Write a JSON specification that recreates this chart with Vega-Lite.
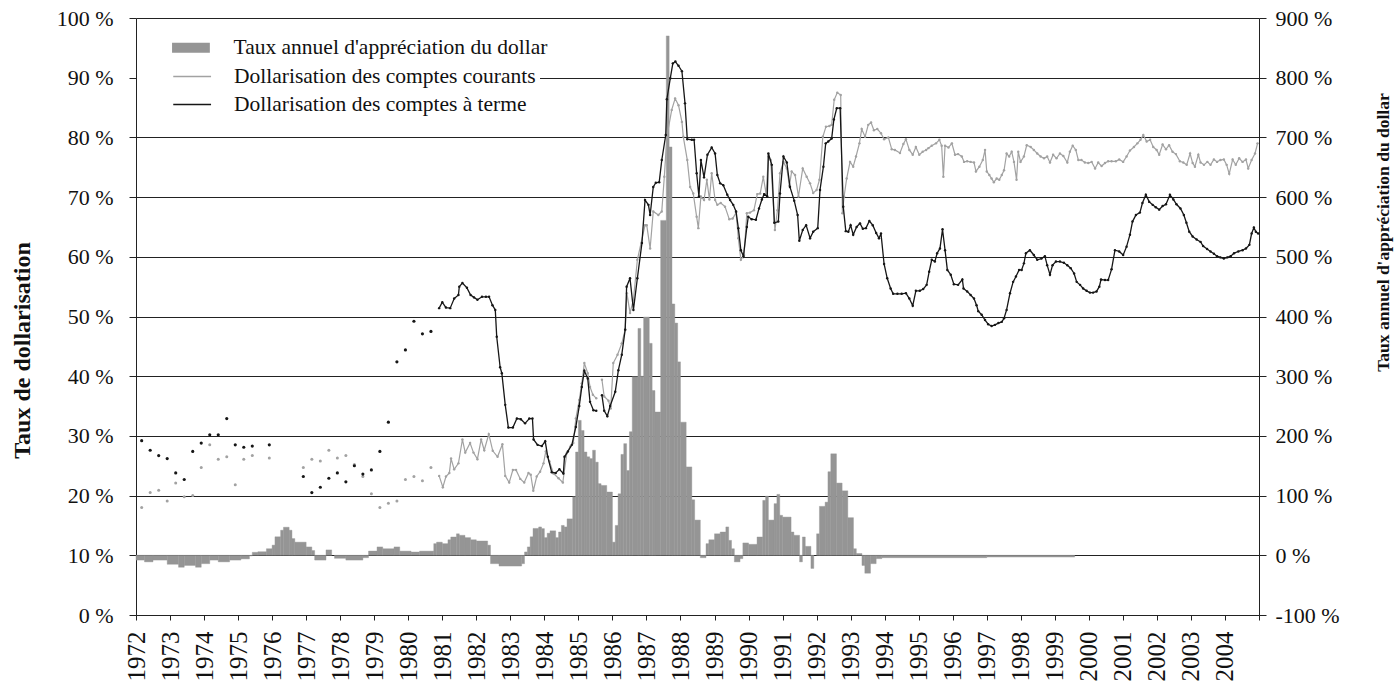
{
  "$schema": "https://vega.github.io/schema/vega-lite/v6.json",
  "width": 1123,
  "height": 597,
  "autosize": {"type": "none"},
  "padding": {"left": 136, "top": 18, "right": 139, "bottom": 75},
  "background": "white",
  "config": {
    "view": {"stroke": null},
    "font": "Liberation Serif",
    "axis": {"labelFont": "Liberation Serif", "titleFont": "Liberation Serif", "labelColor": "#111", "titleColor": "#111", "domainColor": "#222", "tickColor": "#222"},
    "legend": {"labelFont": "Liberation Serif", "labelFontSize": 21.5, "labelColor": "#111", "labelLimit": 0}
  },
  "datasets": {
    "bars": [
      {"year": 1972, "year_end": 1972.25, "value": -8},
      {"year": 1972.25, "year_end": 1972.5, "value": -11},
      {"year": 1972.5, "year_end": 1972.917, "value": -8},
      {"year": 1972.917, "year_end": 1973.25, "value": -15},
      {"year": 1973.25, "year_end": 1973.417, "value": -20},
      {"year": 1973.417, "year_end": 1973.75, "value": -17},
      {"year": 1973.75, "year_end": 1973.917, "value": -20},
      {"year": 1973.917, "year_end": 1974.167, "value": -14},
      {"year": 1974.167, "year_end": 1974.417, "value": -8},
      {"year": 1974.417, "year_end": 1974.75, "value": -11},
      {"year": 1974.75, "year_end": 1975.083, "value": -8},
      {"year": 1975.083, "year_end": 1975.333, "value": -6},
      {"year": 1975.333, "year_end": 1975.417, "value": -1},
      {"year": 1975.417, "year_end": 1975.583, "value": 5},
      {"year": 1975.583, "year_end": 1975.833, "value": 6},
      {"year": 1975.833, "year_end": 1976, "value": 11},
      {"year": 1976, "year_end": 1976.083, "value": 17},
      {"year": 1976.083, "year_end": 1976.25, "value": 31},
      {"year": 1976.25, "year_end": 1976.333, "value": 42},
      {"year": 1976.333, "year_end": 1976.5, "value": 47},
      {"year": 1976.5, "year_end": 1976.583, "value": 42},
      {"year": 1976.583, "year_end": 1976.667, "value": 28},
      {"year": 1976.667, "year_end": 1977, "value": 22},
      {"year": 1977, "year_end": 1977.167, "value": 14},
      {"year": 1977.167, "year_end": 1977.25, "value": 8},
      {"year": 1977.25, "year_end": 1977.583, "value": -8},
      {"year": 1977.583, "year_end": 1977.75, "value": 9},
      {"year": 1977.833, "year_end": 1978.167, "value": -5},
      {"year": 1978.167, "year_end": 1978.667, "value": -8},
      {"year": 1978.667, "year_end": 1978.833, "value": -4},
      {"year": 1978.833, "year_end": 1979.083, "value": 7},
      {"year": 1979.083, "year_end": 1979.25, "value": 14},
      {"year": 1979.25, "year_end": 1979.583, "value": 11},
      {"year": 1979.583, "year_end": 1979.75, "value": 14},
      {"year": 1979.75, "year_end": 1980.083, "value": 7},
      {"year": 1980.083, "year_end": 1980.333, "value": 5.5},
      {"year": 1980.333, "year_end": 1980.75, "value": 7},
      {"year": 1980.75, "year_end": 1980.833, "value": 19.5},
      {"year": 1980.833, "year_end": 1981, "value": 22},
      {"year": 1981, "year_end": 1981.167, "value": 19.5},
      {"year": 1981.167, "year_end": 1981.25, "value": 26},
      {"year": 1981.25, "year_end": 1981.417, "value": 30.7},
      {"year": 1981.417, "year_end": 1981.5, "value": 36},
      {"year": 1981.5, "year_end": 1981.667, "value": 33.5},
      {"year": 1981.667, "year_end": 1981.833, "value": 29.6},
      {"year": 1981.833, "year_end": 1982, "value": 26},
      {"year": 1982, "year_end": 1982.333, "value": 24},
      {"year": 1982.333, "year_end": 1982.417, "value": 17},
      {"year": 1982.417, "year_end": 1982.667, "value": -14},
      {"year": 1982.667, "year_end": 1983.333, "value": -18},
      {"year": 1983.333, "year_end": 1983.417, "value": -14},
      {"year": 1983.417, "year_end": 1983.5, "value": 5.6},
      {"year": 1983.5, "year_end": 1983.583, "value": 14},
      {"year": 1983.583, "year_end": 1983.667, "value": 31},
      {"year": 1983.667, "year_end": 1983.833, "value": 45},
      {"year": 1983.833, "year_end": 1983.917, "value": 47.5},
      {"year": 1983.917, "year_end": 1984, "value": 44.7},
      {"year": 1984, "year_end": 1984.083, "value": 29.6},
      {"year": 1984.083, "year_end": 1984.167, "value": 37},
      {"year": 1984.167, "year_end": 1984.333, "value": 41},
      {"year": 1984.333, "year_end": 1984.417, "value": 29.6},
      {"year": 1984.417, "year_end": 1984.5, "value": 39},
      {"year": 1984.5, "year_end": 1984.583, "value": 50},
      {"year": 1984.583, "year_end": 1984.667, "value": 47.5},
      {"year": 1984.667, "year_end": 1984.833, "value": 61},
      {"year": 1984.833, "year_end": 1984.917, "value": 98},
      {"year": 1984.917, "year_end": 1985, "value": 173},
      {"year": 1985, "year_end": 1985.083, "value": 226},
      {"year": 1985.083, "year_end": 1985.167, "value": 209},
      {"year": 1985.167, "year_end": 1985.25, "value": 173},
      {"year": 1985.25, "year_end": 1985.333, "value": 165},
      {"year": 1985.333, "year_end": 1985.417, "value": 162},
      {"year": 1985.417, "year_end": 1985.5, "value": 176},
      {"year": 1985.5, "year_end": 1985.583, "value": 156},
      {"year": 1985.583, "year_end": 1985.667, "value": 120},
      {"year": 1985.667, "year_end": 1985.833, "value": 117},
      {"year": 1985.833, "year_end": 1986, "value": 106},
      {"year": 1986, "year_end": 1986.083, "value": 22},
      {"year": 1986.083, "year_end": 1986.167, "value": 50},
      {"year": 1986.167, "year_end": 1986.25, "value": 103},
      {"year": 1986.25, "year_end": 1986.333, "value": 169},
      {"year": 1986.333, "year_end": 1986.417, "value": 187},
      {"year": 1986.417, "year_end": 1986.5, "value": 142},
      {"year": 1986.5, "year_end": 1986.583, "value": 207},
      {"year": 1986.583, "year_end": 1986.75, "value": 299},
      {"year": 1986.75, "year_end": 1986.833, "value": 380},
      {"year": 1986.833, "year_end": 1986.917, "value": 300},
      {"year": 1986.917, "year_end": 1987.083, "value": 399},
      {"year": 1987.083, "year_end": 1987.167, "value": 355},
      {"year": 1987.167, "year_end": 1987.25, "value": 276},
      {"year": 1987.25, "year_end": 1987.417, "value": 240},
      {"year": 1987.417, "year_end": 1987.583, "value": 561},
      {"year": 1987.583, "year_end": 1987.667, "value": 870},
      {"year": 1987.667, "year_end": 1987.75, "value": 684},
      {"year": 1987.75, "year_end": 1987.833, "value": 421},
      {"year": 1987.833, "year_end": 1987.917, "value": 389},
      {"year": 1987.917, "year_end": 1988, "value": 324},
      {"year": 1988, "year_end": 1988.167, "value": 223},
      {"year": 1988.167, "year_end": 1988.333, "value": 148},
      {"year": 1988.333, "year_end": 1988.417, "value": 93},
      {"year": 1988.417, "year_end": 1988.583, "value": 59},
      {"year": 1988.583, "year_end": 1988.75, "value": -4},
      {"year": 1988.75, "year_end": 1988.833, "value": 19.5},
      {"year": 1988.833, "year_end": 1989, "value": 26},
      {"year": 1989, "year_end": 1989.167, "value": 36},
      {"year": 1989.167, "year_end": 1989.333, "value": 39},
      {"year": 1989.333, "year_end": 1989.417, "value": 47.5},
      {"year": 1989.417, "year_end": 1989.5, "value": 25},
      {"year": 1989.5, "year_end": 1989.583, "value": 11},
      {"year": 1989.583, "year_end": 1989.75, "value": -11},
      {"year": 1989.75, "year_end": 1989.833, "value": -5.6},
      {"year": 1989.833, "year_end": 1990, "value": 20.7},
      {"year": 1990, "year_end": 1990.25, "value": 18.4},
      {"year": 1990.25, "year_end": 1990.417, "value": 30.7},
      {"year": 1990.417, "year_end": 1990.5, "value": 92},
      {"year": 1990.5, "year_end": 1990.583, "value": 99},
      {"year": 1990.583, "year_end": 1990.75, "value": 59},
      {"year": 1990.75, "year_end": 1990.833, "value": 86.5},
      {"year": 1990.833, "year_end": 1990.917, "value": 102},
      {"year": 1990.917, "year_end": 1991, "value": 67},
      {"year": 1991, "year_end": 1991.25, "value": 64},
      {"year": 1991.25, "year_end": 1991.333, "value": 39},
      {"year": 1991.333, "year_end": 1991.5, "value": 33.5},
      {"year": 1991.5, "year_end": 1991.583, "value": -11},
      {"year": 1991.583, "year_end": 1991.667, "value": 30.7},
      {"year": 1991.667, "year_end": 1991.833, "value": 15},
      {"year": 1991.833, "year_end": 1991.917, "value": -22},
      {"year": 1992, "year_end": 1992.083, "value": 36},
      {"year": 1992.083, "year_end": 1992.25, "value": 82},
      {"year": 1992.25, "year_end": 1992.333, "value": 89},
      {"year": 1992.333, "year_end": 1992.417, "value": 140},
      {"year": 1992.417, "year_end": 1992.583, "value": 170},
      {"year": 1992.583, "year_end": 1992.75, "value": 121},
      {"year": 1992.75, "year_end": 1992.917, "value": 108},
      {"year": 1992.917, "year_end": 1993.083, "value": 63},
      {"year": 1993.083, "year_end": 1993.167, "value": 11},
      {"year": 1993.167, "year_end": 1993.333, "value": 3},
      {"year": 1993.333, "year_end": 1993.417, "value": -17},
      {"year": 1993.417, "year_end": 1993.583, "value": -30},
      {"year": 1993.583, "year_end": 1993.75, "value": -14},
      {"year": 1993.75, "year_end": 1993.917, "value": -5.6},
      {"year": 1993.917, "year_end": 1997, "value": -4},
      {"year": 1997, "year_end": 1999.583, "value": -3}
    ],
    "terme_early": [
      {"year": 1972.167, "value": 29.2}, {"year": 1972.417, "value": 27.6}, {"year": 1972.667, "value": 26.7}, {"year": 1972.917, "value": 26.2},
      {"year": 1973.167, "value": 23.8}, {"year": 1973.417, "value": 22.7}, {"year": 1973.667, "value": 27.4}, {"year": 1973.917, "value": 28.8},
      {"year": 1974.167, "value": 30.2}, {"year": 1974.417, "value": 30.2}, {"year": 1974.667, "value": 32.9}, {"year": 1974.917, "value": 28.5},
      {"year": 1975.167, "value": 28.1}, {"year": 1975.417, "value": 28.3}, {"year": 1975.917, "value": 28.5},
      {"year": 1976.917, "value": 23.2},
      {"year": 1977.167, "value": 20.5}, {"year": 1977.417, "value": 21.4}, {"year": 1977.667, "value": 22.9}, {"year": 1977.917, "value": 23.8},
      {"year": 1978.167, "value": 22.3}, {"year": 1978.417, "value": 25.0}, {"year": 1978.667, "value": 23.6}, {"year": 1978.917, "value": 24.3},
      {"year": 1979.167, "value": 27.4}, {"year": 1979.417, "value": 32.3}, {"year": 1979.667, "value": 42.4}, {"year": 1979.917, "value": 44.4},
      {"year": 1980.167, "value": 49.2}, {"year": 1980.417, "value": 47.1}, {"year": 1980.667, "value": 47.5}
    ],
    "courants_early": [
      {"year": 1972.167, "value": 18.0}, {"year": 1972.417, "value": 20.5}, {"year": 1972.667, "value": 20.9}, {"year": 1972.917, "value": 19.1},
      {"year": 1973.167, "value": 22.1}, {"year": 1973.417, "value": 19.8}, {"year": 1973.667, "value": 20.0}, {"year": 1973.917, "value": 24.7},
      {"year": 1974.167, "value": 28.5}, {"year": 1974.417, "value": 26.1}, {"year": 1974.667, "value": 26.5}, {"year": 1974.917, "value": 21.8},
      {"year": 1975.167, "value": 26.1}, {"year": 1975.417, "value": 26.7}, {"year": 1975.917, "value": 26.3},
      {"year": 1976.917, "value": 24.7},
      {"year": 1977.167, "value": 26.1}, {"year": 1977.417, "value": 25.8}, {"year": 1977.667, "value": 27.6}, {"year": 1977.917, "value": 26.3},
      {"year": 1978.167, "value": 26.7}, {"year": 1978.417, "value": 25.2}, {"year": 1978.667, "value": 23.2}, {"year": 1978.917, "value": 20.3},
      {"year": 1979.167, "value": 18.0}, {"year": 1979.417, "value": 18.7}, {"year": 1979.667, "value": 19.1}, {"year": 1979.917, "value": 22.7},
      {"year": 1980.167, "value": 23.2}, {"year": 1980.417, "value": 22.5}, {"year": 1980.667, "value": 24.7}
    ],
    "terme": [
      {"year": 1980.908, "value": 51.4, "seg": 1}, {"year": 1981.0, "value": 52.4, "seg": 1}, {"year": 1981.108, "value": 51.5, "seg": 1}, {"year": 1981.233, "value": 51.4, "seg": 1},
      {"year": 1981.35, "value": 53.0, "seg": 1}, {"year": 1981.475, "value": 53.6, "seg": 1}, {"year": 1981.5, "value": 55.0, "seg": 1}, {"year": 1981.592, "value": 55.6, "seg": 1},
      {"year": 1981.725, "value": 54.8, "seg": 1}, {"year": 1981.833, "value": 53.6, "seg": 1}, {"year": 1981.933, "value": 53.2, "seg": 1}, {"year": 1982.033, "value": 52.8, "seg": 1},
      {"year": 1982.167, "value": 53.3, "seg": 1}, {"year": 1982.283, "value": 53.3, "seg": 1}, {"year": 1982.375, "value": 53.3, "seg": 1}, {"year": 1982.475, "value": 51.9, "seg": 1},
      {"year": 1982.558, "value": 51.1, "seg": 1}, {"year": 1982.6, "value": 46.6, "seg": 1}, {"year": 1982.7, "value": 41.5, "seg": 1}, {"year": 1982.75, "value": 40.5, "seg": 1},
      {"year": 1982.85, "value": 35.2, "seg": 1}, {"year": 1982.942, "value": 31.4, "seg": 1}, {"year": 1983.075, "value": 31.4, "seg": 1}, {"year": 1983.192, "value": 32.9, "seg": 1},
      {"year": 1983.308, "value": 32.8, "seg": 1}, {"year": 1983.433, "value": 32.1, "seg": 1}, {"year": 1983.558, "value": 32.9, "seg": 1}, {"year": 1983.65, "value": 32.9, "seg": 1},
      {"year": 1983.683, "value": 29.4, "seg": 1}, {"year": 1983.8, "value": 28.5, "seg": 1}, {"year": 1983.925, "value": 28.3, "seg": 1}, {"year": 1984.025, "value": 29.1, "seg": 1},
      {"year": 1984.1, "value": 26.5, "seg": 1}, {"year": 1984.217, "value": 23.9, "seg": 1}, {"year": 1984.333, "value": 23.8, "seg": 1}, {"year": 1984.442, "value": 24.4, "seg": 1},
      {"year": 1984.558, "value": 23.7, "seg": 1}, {"year": 1984.592, "value": 26.5, "seg": 1}, {"year": 1984.692, "value": 27.4, "seg": 1}, {"year": 1984.808, "value": 28.5, "seg": 1},
      {"year": 1984.925, "value": 31.5, "seg": 1}, {"year": 1985.025, "value": 35.0, "seg": 1}, {"year": 1985.1, "value": 38.2, "seg": 1}, {"year": 1985.175, "value": 40.9, "seg": 1},
      {"year": 1985.275, "value": 39.6, "seg": 1}, {"year": 1985.342, "value": 35.7, "seg": 1}, {"year": 1985.442, "value": 34.3, "seg": 1}, {"year": 1985.525, "value": 34.2, "seg": 1},
      {"year": 1985.692, "value": 36.8, "seg": 2}, {"year": 1985.758, "value": 34.2, "seg": 2}, {"year": 1985.85, "value": 33.3, "seg": 2}, {"year": 1985.933, "value": 35.0, "seg": 2},
      {"year": 1986.083, "value": 37.4, "seg": 2}, {"year": 1986.175, "value": 41.0, "seg": 2}, {"year": 1986.275, "value": 43.6, "seg": 2}, {"year": 1986.375, "value": 47.8, "seg": 2},
      {"year": 1986.417, "value": 55.0, "seg": 2}, {"year": 1986.517, "value": 56.4, "seg": 2}, {"year": 1986.617, "value": 51.1, "seg": 2}, {"year": 1986.733, "value": 56.4, "seg": 2},
      {"year": 1986.867, "value": 62.3, "seg": 2}, {"year": 1986.958, "value": 69.5, "seg": 2}, {"year": 1987.058, "value": 68.7, "seg": 2}, {"year": 1987.108, "value": 67.0, "seg": 2},
      {"year": 1987.2, "value": 71.7, "seg": 2}, {"year": 1987.275, "value": 72.4, "seg": 2}, {"year": 1987.375, "value": 72.5, "seg": 2}, {"year": 1987.45, "value": 76.2, "seg": 2},
      {"year": 1987.567, "value": 80.4, "seg": 2}, {"year": 1987.6, "value": 86.4, "seg": 2}, {"year": 1987.7, "value": 89.9, "seg": 2}, {"year": 1987.775, "value": 92.4, "seg": 2},
      {"year": 1987.85, "value": 92.7, "seg": 2}, {"year": 1987.942, "value": 92.0, "seg": 2}, {"year": 1988.042, "value": 91.1, "seg": 2}, {"year": 1988.133, "value": 85.7, "seg": 2},
      {"year": 1988.2, "value": 79.7, "seg": 2}, {"year": 1988.333, "value": 79.6, "seg": 2}, {"year": 1988.4, "value": 79.6, "seg": 2}, {"year": 1988.475, "value": 74.0, "seg": 2},
      {"year": 1988.542, "value": 70.1, "seg": 2}, {"year": 1988.6, "value": 76.2, "seg": 2}, {"year": 1988.692, "value": 73.3, "seg": 2}, {"year": 1988.792, "value": 77.1, "seg": 2},
      {"year": 1988.917, "value": 78.3, "seg": 2}, {"year": 1989.017, "value": 77.3, "seg": 2}, {"year": 1989.083, "value": 73.7, "seg": 2}, {"year": 1989.167, "value": 72.3, "seg": 2},
      {"year": 1989.258, "value": 72.0, "seg": 2}, {"year": 1989.375, "value": 70.4, "seg": 2}, {"year": 1989.458, "value": 69.5, "seg": 2}, {"year": 1989.55, "value": 68.7, "seg": 2},
      {"year": 1989.633, "value": 67.6, "seg": 2}, {"year": 1989.7, "value": 64.8, "seg": 2}, {"year": 1989.775, "value": 61.1, "seg": 2}, {"year": 1989.85, "value": 60.1, "seg": 2},
      {"year": 1989.95, "value": 65.0, "seg": 2}, {"year": 1989.992, "value": 66.7, "seg": 2}, {"year": 1990.092, "value": 66.3, "seg": 2}, {"year": 1990.217, "value": 66.2, "seg": 2},
      {"year": 1990.308, "value": 68.1, "seg": 2}, {"year": 1990.392, "value": 69.6, "seg": 2}, {"year": 1990.458, "value": 70.5, "seg": 2}, {"year": 1990.55, "value": 70.1, "seg": 2},
      {"year": 1990.583, "value": 77.3, "seg": 2}, {"year": 1990.683, "value": 75.4, "seg": 2}, {"year": 1990.758, "value": 65.7, "seg": 2}, {"year": 1990.875, "value": 65.9, "seg": 2},
      {"year": 1990.925, "value": 70.6, "seg": 2}, {"year": 1991.025, "value": 76.8, "seg": 2}, {"year": 1991.125, "value": 75.8, "seg": 2}, {"year": 1991.217, "value": 71.7, "seg": 2},
      {"year": 1991.342, "value": 69.4, "seg": 2}, {"year": 1991.442, "value": 67.0, "seg": 2}, {"year": 1991.492, "value": 62.7, "seg": 2}, {"year": 1991.592, "value": 64.5, "seg": 2},
      {"year": 1991.692, "value": 65.3, "seg": 2}, {"year": 1991.808, "value": 63.1, "seg": 2}, {"year": 1991.9, "value": 64.2, "seg": 2}, {"year": 1992.033, "value": 64.8, "seg": 2},
      {"year": 1992.1, "value": 71.2, "seg": 2}, {"year": 1992.2, "value": 75.1, "seg": 2}, {"year": 1992.267, "value": 79.0, "seg": 2}, {"year": 1992.342, "value": 79.3, "seg": 2},
      {"year": 1992.442, "value": 79.8, "seg": 2}, {"year": 1992.508, "value": 83.0, "seg": 2}, {"year": 1992.592, "value": 84.9, "seg": 2}, {"year": 1992.692, "value": 84.9, "seg": 2},
      {"year": 1992.783, "value": 68.4, "seg": 2}, {"year": 1992.858, "value": 64.3, "seg": 2}, {"year": 1992.933, "value": 64.2, "seg": 2}, {"year": 1993.0, "value": 65.3, "seg": 2},
      {"year": 1993.075, "value": 63.7, "seg": 2}, {"year": 1993.175, "value": 65.0, "seg": 2}, {"year": 1993.275, "value": 65.6, "seg": 2}, {"year": 1993.358, "value": 64.7, "seg": 2},
      {"year": 1993.45, "value": 64.8, "seg": 2}, {"year": 1993.55, "value": 66.0, "seg": 2}, {"year": 1993.65, "value": 65.3, "seg": 2}, {"year": 1993.75, "value": 64.0, "seg": 2},
      {"year": 1993.833, "value": 63.1, "seg": 2}, {"year": 1993.892, "value": 63.9, "seg": 2}, {"year": 1993.983, "value": 58.8, "seg": 2}, {"year": 1994.075, "value": 56.4, "seg": 2},
      {"year": 1994.175, "value": 54.7, "seg": 2}, {"year": 1994.25, "value": 53.8, "seg": 2}, {"year": 1994.375, "value": 53.8, "seg": 2}, {"year": 1994.5, "value": 53.8, "seg": 2},
      {"year": 1994.625, "value": 53.9, "seg": 2}, {"year": 1994.725, "value": 53.0, "seg": 2}, {"year": 1994.825, "value": 51.8, "seg": 2}, {"year": 1994.917, "value": 54.3, "seg": 2},
      {"year": 1995.033, "value": 54.3, "seg": 2}, {"year": 1995.133, "value": 54.6, "seg": 2}, {"year": 1995.233, "value": 55.3, "seg": 2}, {"year": 1995.308, "value": 57.5, "seg": 2},
      {"year": 1995.383, "value": 59.5, "seg": 2}, {"year": 1995.475, "value": 59.2, "seg": 2}, {"year": 1995.542, "value": 60.6, "seg": 2}, {"year": 1995.625, "value": 61.4, "seg": 2},
      {"year": 1995.7, "value": 64.6, "seg": 2}, {"year": 1995.775, "value": 61.1, "seg": 2}, {"year": 1995.842, "value": 57.8, "seg": 2}, {"year": 1995.942, "value": 57.0, "seg": 2},
      {"year": 1996.033, "value": 55.4, "seg": 2}, {"year": 1996.158, "value": 55.3, "seg": 2}, {"year": 1996.283, "value": 56.2, "seg": 2}, {"year": 1996.317, "value": 54.7, "seg": 2},
      {"year": 1996.425, "value": 54.2, "seg": 2}, {"year": 1996.525, "value": 53.6, "seg": 2}, {"year": 1996.625, "value": 53.0, "seg": 2}, {"year": 1996.7, "value": 51.9, "seg": 2},
      {"year": 1996.75, "value": 50.9, "seg": 2}, {"year": 1996.85, "value": 50.3, "seg": 2}, {"year": 1996.95, "value": 49.4, "seg": 2}, {"year": 1997.042, "value": 48.7, "seg": 2},
      {"year": 1997.142, "value": 48.4, "seg": 2}, {"year": 1997.242, "value": 48.6, "seg": 2}, {"year": 1997.342, "value": 48.9, "seg": 2}, {"year": 1997.442, "value": 49.1, "seg": 2},
      {"year": 1997.508, "value": 49.7, "seg": 2}, {"year": 1997.583, "value": 51.1, "seg": 2}, {"year": 1997.683, "value": 53.9, "seg": 2}, {"year": 1997.775, "value": 55.8, "seg": 2},
      {"year": 1997.858, "value": 56.7, "seg": 2}, {"year": 1997.95, "value": 57.8, "seg": 2}, {"year": 1998.025, "value": 57.8, "seg": 2}, {"year": 1998.092, "value": 58.9, "seg": 2},
      {"year": 1998.15, "value": 60.6, "seg": 2}, {"year": 1998.267, "value": 61.1, "seg": 2}, {"year": 1998.383, "value": 60.3, "seg": 2}, {"year": 1998.483, "value": 59.5, "seg": 2},
      {"year": 1998.608, "value": 59.7, "seg": 2}, {"year": 1998.708, "value": 60.1, "seg": 2}, {"year": 1998.775, "value": 58.6, "seg": 2}, {"year": 1998.858, "value": 57.0, "seg": 2},
      {"year": 1998.933, "value": 58.6, "seg": 2}, {"year": 1999.033, "value": 59.2, "seg": 2}, {"year": 1999.15, "value": 59.2, "seg": 2}, {"year": 1999.267, "value": 59.0, "seg": 2},
      {"year": 1999.367, "value": 58.6, "seg": 2}, {"year": 1999.467, "value": 58.1, "seg": 2}, {"year": 1999.567, "value": 57.2, "seg": 2}, {"year": 1999.642, "value": 55.8, "seg": 2},
      {"year": 1999.742, "value": 55.3, "seg": 2}, {"year": 1999.833, "value": 54.7, "seg": 2}, {"year": 1999.933, "value": 54.3, "seg": 2}, {"year": 2000.033, "value": 54.0, "seg": 2},
      {"year": 2000.125, "value": 54.0, "seg": 2}, {"year": 2000.225, "value": 54.2, "seg": 2}, {"year": 2000.308, "value": 55.0, "seg": 2}, {"year": 2000.358, "value": 56.2, "seg": 2},
      {"year": 2000.475, "value": 56.1, "seg": 2}, {"year": 2000.567, "value": 56.1, "seg": 2}, {"year": 2000.667, "value": 57.9, "seg": 2}, {"year": 2000.767, "value": 61.1, "seg": 2},
      {"year": 2000.892, "value": 60.9, "seg": 2}, {"year": 2001.008, "value": 60.3, "seg": 2}, {"year": 2001.108, "value": 61.7, "seg": 2}, {"year": 2001.208, "value": 63.7, "seg": 2},
      {"year": 2001.283, "value": 65.9, "seg": 2}, {"year": 2001.383, "value": 67.0, "seg": 2}, {"year": 2001.5, "value": 67.4, "seg": 2}, {"year": 2001.575, "value": 69.0, "seg": 2},
      {"year": 2001.675, "value": 70.4, "seg": 2}, {"year": 2001.775, "value": 69.2, "seg": 2}, {"year": 2001.875, "value": 68.7, "seg": 2}, {"year": 2001.967, "value": 68.3, "seg": 2},
      {"year": 2002.067, "value": 67.9, "seg": 2}, {"year": 2002.167, "value": 68.5, "seg": 2}, {"year": 2002.267, "value": 68.8, "seg": 2}, {"year": 2002.383, "value": 70.4, "seg": 2},
      {"year": 2002.483, "value": 69.6, "seg": 2}, {"year": 2002.575, "value": 68.8, "seg": 2}, {"year": 2002.692, "value": 68.1, "seg": 2}, {"year": 2002.792, "value": 67.0, "seg": 2},
      {"year": 2002.867, "value": 65.7, "seg": 2}, {"year": 2002.95, "value": 64.2, "seg": 2}, {"year": 2003.05, "value": 63.4, "seg": 2}, {"year": 2003.167, "value": 62.9, "seg": 2},
      {"year": 2003.283, "value": 62.5, "seg": 2}, {"year": 2003.358, "value": 61.8, "seg": 2}, {"year": 2003.475, "value": 61.3, "seg": 2}, {"year": 2003.575, "value": 60.9, "seg": 2},
      {"year": 2003.675, "value": 60.5, "seg": 2}, {"year": 2003.767, "value": 60.1, "seg": 2}, {"year": 2003.867, "value": 59.9, "seg": 2}, {"year": 2003.967, "value": 59.7, "seg": 2},
      {"year": 2004.067, "value": 59.9, "seg": 2}, {"year": 2004.167, "value": 60.1, "seg": 2}, {"year": 2004.267, "value": 60.6, "seg": 2}, {"year": 2004.392, "value": 60.9, "seg": 2},
      {"year": 2004.517, "value": 61.1, "seg": 2}, {"year": 2004.617, "value": 61.4, "seg": 2}, {"year": 2004.717, "value": 62.0, "seg": 2}, {"year": 2004.783, "value": 63.9, "seg": 2},
      {"year": 2004.85, "value": 64.9, "seg": 2}, {"year": 2004.908, "value": 64.2, "seg": 2}, {"year": 2004.975, "value": 63.9, "seg": 2}
    ],
    "courants": [
      {"year": 1980.908, "value": 23.3, "seg": 1}, {"year": 1981.017, "value": 21.4, "seg": 1}, {"year": 1981.108, "value": 23.2, "seg": 1}, {"year": 1981.208, "value": 23.8, "seg": 1},
      {"year": 1981.258, "value": 26.2, "seg": 1}, {"year": 1981.35, "value": 24.4, "seg": 1}, {"year": 1981.475, "value": 25.4, "seg": 1}, {"year": 1981.592, "value": 29.4, "seg": 1},
      {"year": 1981.675, "value": 27.2, "seg": 1}, {"year": 1981.817, "value": 28.8, "seg": 1}, {"year": 1981.917, "value": 27.2, "seg": 1}, {"year": 1982.033, "value": 26.1, "seg": 1},
      {"year": 1982.142, "value": 29.4, "seg": 1}, {"year": 1982.233, "value": 27.6, "seg": 1}, {"year": 1982.367, "value": 30.3, "seg": 1}, {"year": 1982.483, "value": 27.5, "seg": 1},
      {"year": 1982.625, "value": 26.5, "seg": 1}, {"year": 1982.767, "value": 28.6, "seg": 1}, {"year": 1982.85, "value": 23.3, "seg": 1}, {"year": 1982.967, "value": 22.2, "seg": 1},
      {"year": 1983.075, "value": 24.3, "seg": 1}, {"year": 1983.167, "value": 24.3, "seg": 1}, {"year": 1983.292, "value": 22.8, "seg": 1}, {"year": 1983.408, "value": 22.2, "seg": 1},
      {"year": 1983.533, "value": 23.8, "seg": 1}, {"year": 1983.6, "value": 23.5, "seg": 1}, {"year": 1983.675, "value": 20.8, "seg": 1}, {"year": 1983.775, "value": 23.2, "seg": 1},
      {"year": 1983.875, "value": 24.0, "seg": 1}, {"year": 1983.975, "value": 25.4, "seg": 1}, {"year": 1984.042, "value": 27.4, "seg": 1}, {"year": 1984.15, "value": 25.7, "seg": 1},
      {"year": 1984.267, "value": 23.7, "seg": 1}, {"year": 1984.417, "value": 22.9, "seg": 1}, {"year": 1984.542, "value": 22.2, "seg": 1}, {"year": 1984.658, "value": 27.1, "seg": 1},
      {"year": 1984.758, "value": 28.2, "seg": 1}, {"year": 1984.85, "value": 28.8, "seg": 1}, {"year": 1984.925, "value": 32.9, "seg": 1}, {"year": 1985.025, "value": 36.0, "seg": 1},
      {"year": 1985.1, "value": 38.8, "seg": 1}, {"year": 1985.175, "value": 42.2, "seg": 1}, {"year": 1985.275, "value": 40.5, "seg": 1}, {"year": 1985.342, "value": 38.2, "seg": 1},
      {"year": 1985.425, "value": 36.9, "seg": 1}, {"year": 1985.525, "value": 36.3, "seg": 1},
      {"year": 1985.692, "value": 39.4, "seg": 2}, {"year": 1985.758, "value": 36.6, "seg": 2}, {"year": 1985.883, "value": 35.9, "seg": 2}, {"year": 1985.95, "value": 34.6, "seg": 2},
      {"year": 1986.025, "value": 42.2, "seg": 2}, {"year": 1986.15, "value": 43.6, "seg": 2}, {"year": 1986.275, "value": 45.5, "seg": 2}, {"year": 1986.375, "value": 47.8, "seg": 2},
      {"year": 1986.425, "value": 53.9, "seg": 2}, {"year": 1986.517, "value": 50.6, "seg": 2}, {"year": 1986.617, "value": 52.8, "seg": 2}, {"year": 1986.733, "value": 59.5, "seg": 2},
      {"year": 1986.958, "value": 65.3, "seg": 2}, {"year": 1987.008, "value": 65.3, "seg": 2}, {"year": 1987.108, "value": 61.4, "seg": 2}, {"year": 1987.2, "value": 67.6, "seg": 2},
      {"year": 1987.35, "value": 67.0, "seg": 2}, {"year": 1987.45, "value": 67.6, "seg": 2}, {"year": 1987.525, "value": 73.4, "seg": 2}, {"year": 1987.6, "value": 80.1, "seg": 2},
      {"year": 1987.742, "value": 84.6, "seg": 2}, {"year": 1987.842, "value": 86.5, "seg": 2}, {"year": 1987.942, "value": 85.4, "seg": 2}, {"year": 1988.042, "value": 82.6, "seg": 2},
      {"year": 1988.083, "value": 80.1, "seg": 2}, {"year": 1988.2, "value": 76.2, "seg": 2}, {"year": 1988.283, "value": 71.7, "seg": 2}, {"year": 1988.375, "value": 70.6, "seg": 2},
      {"year": 1988.475, "value": 66.7, "seg": 2}, {"year": 1988.525, "value": 64.8, "seg": 2}, {"year": 1988.6, "value": 70.1, "seg": 2}, {"year": 1988.692, "value": 69.5, "seg": 2},
      {"year": 1988.775, "value": 72.9, "seg": 2}, {"year": 1988.85, "value": 69.6, "seg": 2}, {"year": 1988.917, "value": 74.0, "seg": 2}, {"year": 1989.017, "value": 69.5, "seg": 2},
      {"year": 1989.083, "value": 68.7, "seg": 2}, {"year": 1989.183, "value": 69.0, "seg": 2}, {"year": 1989.308, "value": 68.4, "seg": 2}, {"year": 1989.433, "value": 66.3, "seg": 2},
      {"year": 1989.533, "value": 66.4, "seg": 2}, {"year": 1989.633, "value": 67.4, "seg": 2}, {"year": 1989.7, "value": 63.1, "seg": 2}, {"year": 1989.775, "value": 59.5, "seg": 2},
      {"year": 1989.867, "value": 60.3, "seg": 2}, {"year": 1989.95, "value": 67.3, "seg": 2}, {"year": 1990.042, "value": 67.4, "seg": 2}, {"year": 1990.158, "value": 67.8, "seg": 2},
      {"year": 1990.258, "value": 70.5, "seg": 2}, {"year": 1990.342, "value": 70.6, "seg": 2}, {"year": 1990.433, "value": 73.4, "seg": 2}, {"year": 1990.517, "value": 70.5, "seg": 2},
      {"year": 1990.583, "value": 76.8, "seg": 2}, {"year": 1990.65, "value": 76.2, "seg": 2}, {"year": 1990.775, "value": 64.5, "seg": 2}, {"year": 1990.85, "value": 67.8, "seg": 2},
      {"year": 1990.925, "value": 74.0, "seg": 2}, {"year": 1991.025, "value": 75.9, "seg": 2}, {"year": 1991.125, "value": 74.8, "seg": 2}, {"year": 1991.2, "value": 71.9, "seg": 2},
      {"year": 1991.267, "value": 74.3, "seg": 2}, {"year": 1991.367, "value": 73.7, "seg": 2}, {"year": 1991.467, "value": 70.1, "seg": 2}, {"year": 1991.592, "value": 74.8, "seg": 2},
      {"year": 1991.708, "value": 73.4, "seg": 2}, {"year": 1991.808, "value": 72.3, "seg": 2}, {"year": 1991.9, "value": 70.7, "seg": 2}, {"year": 1992.0, "value": 71.2, "seg": 2},
      {"year": 1992.083, "value": 72.9, "seg": 2}, {"year": 1992.183, "value": 80.1, "seg": 2}, {"year": 1992.275, "value": 81.8, "seg": 2}, {"year": 1992.375, "value": 81.9, "seg": 2},
      {"year": 1992.442, "value": 82.1, "seg": 2}, {"year": 1992.517, "value": 86.3, "seg": 2}, {"year": 1992.608, "value": 87.5, "seg": 2}, {"year": 1992.708, "value": 87.1, "seg": 2},
      {"year": 1992.758, "value": 67.3, "seg": 2}, {"year": 1992.808, "value": 70.1, "seg": 2}, {"year": 1992.883, "value": 73.1, "seg": 2}, {"year": 1992.983, "value": 75.9, "seg": 2},
      {"year": 1993.075, "value": 75.1, "seg": 2}, {"year": 1993.158, "value": 76.8, "seg": 2}, {"year": 1993.258, "value": 79.0, "seg": 2}, {"year": 1993.325, "value": 81.4, "seg": 2},
      {"year": 1993.425, "value": 80.1, "seg": 2}, {"year": 1993.517, "value": 82.1, "seg": 2}, {"year": 1993.6, "value": 82.5, "seg": 2}, {"year": 1993.683, "value": 81.2, "seg": 2},
      {"year": 1993.783, "value": 81.4, "seg": 2}, {"year": 1993.892, "value": 80.7, "seg": 2}, {"year": 1993.983, "value": 79.7, "seg": 2}, {"year": 1994.108, "value": 80.0, "seg": 2},
      {"year": 1994.208, "value": 78.0, "seg": 2}, {"year": 1994.3, "value": 77.9, "seg": 2}, {"year": 1994.45, "value": 77.4, "seg": 2}, {"year": 1994.55, "value": 78.9, "seg": 2},
      {"year": 1994.625, "value": 79.7, "seg": 2}, {"year": 1994.725, "value": 77.9, "seg": 2}, {"year": 1994.825, "value": 77.1, "seg": 2}, {"year": 1994.917, "value": 78.4, "seg": 2},
      {"year": 1995.017, "value": 77.1, "seg": 2}, {"year": 1995.117, "value": 77.6, "seg": 2}, {"year": 1995.217, "value": 77.9, "seg": 2}, {"year": 1995.283, "value": 78.2, "seg": 2},
      {"year": 1995.383, "value": 78.6, "seg": 2}, {"year": 1995.508, "value": 79.0, "seg": 2}, {"year": 1995.608, "value": 79.6, "seg": 2}, {"year": 1995.675, "value": 78.6, "seg": 2},
      {"year": 1995.725, "value": 73.4, "seg": 2}, {"year": 1995.775, "value": 78.6, "seg": 2}, {"year": 1995.875, "value": 78.3, "seg": 2}, {"year": 1995.975, "value": 79.0, "seg": 2},
      {"year": 1996.067, "value": 77.1, "seg": 2}, {"year": 1996.158, "value": 77.2, "seg": 2}, {"year": 1996.267, "value": 76.8, "seg": 2}, {"year": 1996.333, "value": 75.9, "seg": 2},
      {"year": 1996.425, "value": 76.0, "seg": 2}, {"year": 1996.525, "value": 75.9, "seg": 2}, {"year": 1996.625, "value": 75.8, "seg": 2}, {"year": 1996.683, "value": 74.3, "seg": 2},
      {"year": 1996.783, "value": 75.1, "seg": 2}, {"year": 1996.883, "value": 76.2, "seg": 2}, {"year": 1996.95, "value": 77.9, "seg": 2}, {"year": 1997.0, "value": 74.3, "seg": 2},
      {"year": 1997.075, "value": 73.7, "seg": 2}, {"year": 1997.142, "value": 73.1, "seg": 2}, {"year": 1997.208, "value": 72.5, "seg": 2}, {"year": 1997.292, "value": 73.1, "seg": 2},
      {"year": 1997.367, "value": 72.9, "seg": 2}, {"year": 1997.442, "value": 73.7, "seg": 2}, {"year": 1997.508, "value": 74.5, "seg": 2}, {"year": 1997.583, "value": 77.3, "seg": 2},
      {"year": 1997.658, "value": 76.8, "seg": 2}, {"year": 1997.733, "value": 77.6, "seg": 2}, {"year": 1997.8, "value": 75.9, "seg": 2}, {"year": 1997.875, "value": 72.9, "seg": 2},
      {"year": 1997.925, "value": 77.6, "seg": 2}, {"year": 1997.992, "value": 75.9, "seg": 2}, {"year": 1998.092, "value": 76.8, "seg": 2}, {"year": 1998.175, "value": 78.7, "seg": 2},
      {"year": 1998.292, "value": 78.4, "seg": 2}, {"year": 1998.383, "value": 77.9, "seg": 2}, {"year": 1998.483, "value": 77.3, "seg": 2}, {"year": 1998.583, "value": 76.8, "seg": 2},
      {"year": 1998.683, "value": 76.5, "seg": 2}, {"year": 1998.775, "value": 76.8, "seg": 2}, {"year": 1998.858, "value": 75.8, "seg": 2}, {"year": 1998.95, "value": 77.1, "seg": 2},
      {"year": 1999.05, "value": 76.5, "seg": 2}, {"year": 1999.15, "value": 77.3, "seg": 2}, {"year": 1999.25, "value": 76.9, "seg": 2}, {"year": 1999.367, "value": 75.8, "seg": 2},
      {"year": 1999.442, "value": 77.6, "seg": 2}, {"year": 1999.525, "value": 78.6, "seg": 2}, {"year": 1999.617, "value": 77.9, "seg": 2}, {"year": 1999.692, "value": 76.2, "seg": 2},
      {"year": 1999.783, "value": 76.2, "seg": 2}, {"year": 1999.883, "value": 75.8, "seg": 2}, {"year": 1999.983, "value": 75.7, "seg": 2}, {"year": 2000.083, "value": 75.9, "seg": 2},
      {"year": 2000.183, "value": 74.8, "seg": 2}, {"year": 2000.275, "value": 75.8, "seg": 2}, {"year": 2000.375, "value": 75.2, "seg": 2}, {"year": 2000.475, "value": 75.7, "seg": 2},
      {"year": 2000.567, "value": 76.0, "seg": 2}, {"year": 2000.667, "value": 76.0, "seg": 2}, {"year": 2000.792, "value": 76.0, "seg": 2}, {"year": 2000.892, "value": 76.3, "seg": 2},
      {"year": 2001.008, "value": 75.9, "seg": 2}, {"year": 2001.108, "value": 76.8, "seg": 2}, {"year": 2001.208, "value": 77.8, "seg": 2}, {"year": 2001.325, "value": 78.4, "seg": 2},
      {"year": 2001.425, "value": 79.0, "seg": 2}, {"year": 2001.517, "value": 79.6, "seg": 2}, {"year": 2001.6, "value": 80.4, "seg": 2}, {"year": 2001.7, "value": 79.3, "seg": 2},
      {"year": 2001.8, "value": 79.6, "seg": 2}, {"year": 2001.892, "value": 78.4, "seg": 2}, {"year": 2001.992, "value": 77.9, "seg": 2}, {"year": 2002.067, "value": 77.1, "seg": 2},
      {"year": 2002.167, "value": 78.8, "seg": 2}, {"year": 2002.267, "value": 78.0, "seg": 2}, {"year": 2002.358, "value": 78.7, "seg": 2}, {"year": 2002.458, "value": 77.6, "seg": 2},
      {"year": 2002.558, "value": 77.2, "seg": 2}, {"year": 2002.675, "value": 76.0, "seg": 2}, {"year": 2002.775, "value": 75.8, "seg": 2}, {"year": 2002.875, "value": 75.4, "seg": 2},
      {"year": 2002.975, "value": 77.3, "seg": 2}, {"year": 2003.05, "value": 75.7, "seg": 2}, {"year": 2003.117, "value": 75.1, "seg": 2}, {"year": 2003.217, "value": 77.1, "seg": 2},
      {"year": 2003.283, "value": 75.8, "seg": 2}, {"year": 2003.383, "value": 75.4, "seg": 2}, {"year": 2003.483, "value": 75.9, "seg": 2}, {"year": 2003.575, "value": 75.4, "seg": 2},
      {"year": 2003.675, "value": 76.3, "seg": 2}, {"year": 2003.767, "value": 75.9, "seg": 2}, {"year": 2003.867, "value": 76.2, "seg": 2}, {"year": 2003.967, "value": 76.3, "seg": 2},
      {"year": 2004.05, "value": 75.4, "seg": 2}, {"year": 2004.125, "value": 73.9, "seg": 2}, {"year": 2004.225, "value": 76.3, "seg": 2}, {"year": 2004.317, "value": 75.4, "seg": 2},
      {"year": 2004.417, "value": 76.5, "seg": 2}, {"year": 2004.517, "value": 75.9, "seg": 2}, {"year": 2004.617, "value": 76.3, "seg": 2}, {"year": 2004.683, "value": 74.8, "seg": 2},
      {"year": 2004.783, "value": 76.2, "seg": 2}, {"year": 2004.883, "value": 77.3, "seg": 2}, {"year": 2004.958, "value": 79.0, "seg": 2}
    ]
  },
  "encoding": {
    "x": {
      "field": "year", "type": "quantitative",
      "scale": {"domain": [1972, 2005], "nice": false, "zero": false},
      "axis": {
        "title": null, "grid": false,
        "values": [1972,1973,1974,1975,1976,1977,1978,1979,1980,1981,1982,1983,1984,1985,1986,1987,1988,1989,1990,1991,1992,1993,1994,1995,1996,1997,1998,1999,2000,2001,2002,2003,2004,2005],
        "labelExpr": "datum.value == 2005 ? '' : '' + datum.value",
        "labelAngle": 270, "labelAlign": "right", "labelBaseline": "middle",
        "labelFontSize": 25, "labelPadding": 11, "tickSize": 5, "labelOverlap": false, "labelBound": false, "labelFlush": false
      }
    }
  },
  "layer": [
    {
      "data": {"name": "bars"},
      "mark": {"type": "rect", "strokeWidth": 0.4},
      "encoding": {
        "x2": {"field": "year_end"},
        "y": {
          "field": "value", "type": "quantitative",
          "scale": {"domain": [-100, 900], "nice": false, "zero": false},
          "axis": {
            "orient": "right", "grid": false,
            "values": [-100, 0, 100, 200, 300, 400, 500, 600, 700, 800, 900],
            "labelExpr": "datum.value + ' %'",
            "labelFontSize": 22, "labelPadding": 9, "tickSize": 7,
            "title": "Taux annuel d'appréciation du dollar", "titleFontSize": 17.5, "titleFontWeight": "bold",
            "titleAngle": 270, "titleBaseline": "middle", "titleX": 124, "titleY": 214
          }
        },
        "y2": {"datum": 0},
        "fill": {
          "datum": "Taux annuel d'appréciation du dollar",
          "scale": {"domain": ["Taux annuel d'appréciation du dollar"], "range": ["#959595"]},
          "legend": {
            "orient": "none", "legendX": 1, "legendY": 1, "title": null,
            "symbolType": "M0.6,-0.48H4.2V0.48H0.6Z", "symbolSize": 441, "symbolStrokeWidth": 0,
            "labelFontSize": 21.5, "labelOffset": 57, "labelLimit": 0,
            "padding": 18, "fillColor": "white"
          }
        },
        "stroke": {"value": "#959595"}
      }
    },
    {
      "encoding": {
        "y": {
          "field": "value", "type": "quantitative",
          "scale": {"domain": [0, 100], "nice": false, "zero": false},
          "axis": {
            "orient": "left", "grid": true, "gridColor": "#222", "gridWidth": 1,
            "values": [0, 10, 20, 30, 40, 50, 60, 70, 80, 90, 100],
            "labelExpr": "datum.value + ' %'",
            "labelFontSize": 22, "labelPadding": 16, "tickSize": 7,
            "title": "Taux de dollarisation", "titleFontSize": 24, "titleFontWeight": "bold",
            "titleBaseline": "middle", "titleX": -114, "titleY": 332
          }
        },
        "color": {
          "field": "series", "type": "nominal",
          "scale": {
            "domain": ["Dollarisation des comptes courants", "Dollarisation des comptes à terme"],
            "range": ["#a2a2a2", "#161616"]
          },
          "legend": {
            "orient": "none", "legendX": 1, "legendY": 43, "title": null,
            "symbolType": "M1.976,0H5.576", "symbolSize": 441, "symbolStrokeWidth": 1.3,
            "labelFontSize": 21.5, "labelOffset": 70, "labelLimit": 0,
            "rowPadding": 6, "padding": 4, "fillColor": "white"
          }
        }
      },
      "layer": [
        {
          "data": {"name": "courants"},
          "mark": {"type": "line", "strokeWidth": 1.2, "point": {"filled": true, "size": 6}},
          "encoding": {
            "detail": {"field": "seg", "type": "nominal"},
            "color": {"datum": "Dollarisation des comptes courants"}
          }
        },
        {
          "data": {"name": "terme"},
          "mark": {"type": "line", "strokeWidth": 1.3, "point": {"filled": true, "size": 6}},
          "encoding": {
            "detail": {"field": "seg", "type": "nominal"},
            "color": {"datum": "Dollarisation des comptes à terme"}
          }
        },
        {
          "data": {"name": "courants_early"},
          "mark": {"type": "point", "filled": true, "size": 9, "opacity": 1},
          "encoding": {"color": {"datum": "Dollarisation des comptes courants"}}
        },
        {
          "data": {"name": "terme_early"},
          "mark": {"type": "point", "filled": true, "size": 10, "opacity": 1},
          "encoding": {"color": {"datum": "Dollarisation des comptes à terme"}}
        }
      ]
    }
  ],
  "resolve": {"scale": {"y": "independent"}}
}
